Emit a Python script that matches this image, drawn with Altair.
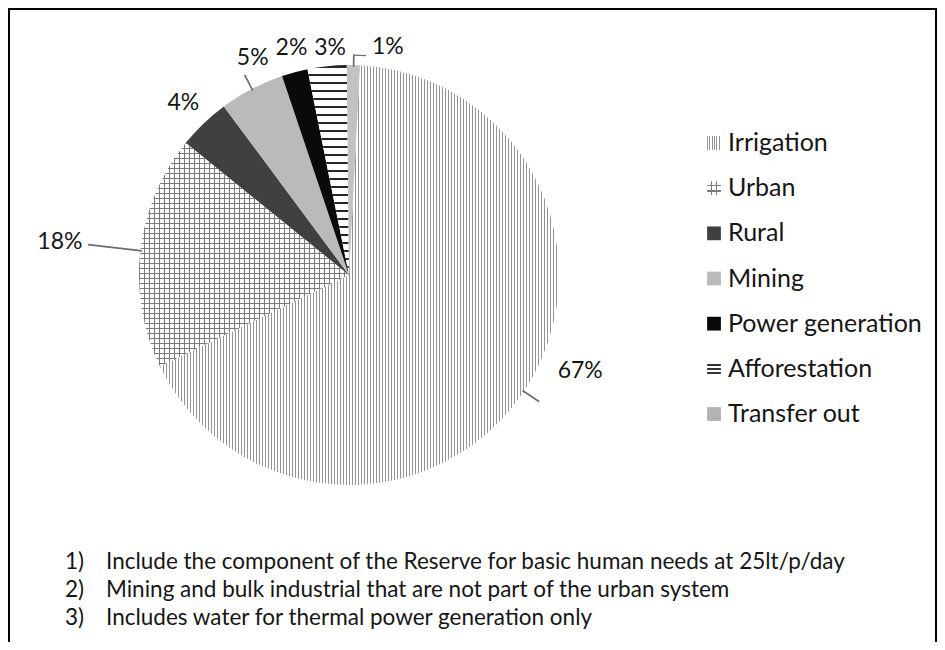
import math
import altair as alt
import pandas as pd

# ---------------- data ----------------
categories = ["Irrigation", "Urban", "Rural", "Mining", "Power generation", "Afforestation", "Transfer out"]
shares = [67, 18, 4, 5, 2, 3, 1]
pct_labels = ["67%", "18%", "4%", "5%", "2%", "3%", "1%"]
footnote_nums = ["1)", "2)", "3)"]
footnote_texts = [
    "Include the component of the Reserve for basic human needs at 25lt/p/day",
    "Mining and bulk industrial that are not part of the urban system",
    "Includes water for thermal power generation only",
]

df = pd.DataFrame({"category": categories, "share": shares, "label": pct_labels,
                   "order": list(range(len(categories)))})
fn_df = pd.DataFrame({"idx": list(range(len(footnote_nums))), "num": footnote_nums, "text": footnote_texts})

# ---------------- layout / style ----------------
W, H = 929, 634
CX, CY = 341, 267          # pie centre (view coords)
R = 210                    # pie radius
START = math.radians(3)    # first slice angle
FONT = "Lato"
TXT = "#161616"
THETA = alt.Scale(domain=[0, 100], range=[START, START + 2 * math.pi])


def stripes(n, frac, line, bg, vertical=True, g0=0.0, g1=1.0):
    stops = []
    for i in range(n):
        a = i / n
        b = (i + frac) / n
        c = (i + 1) / n
        stops += [alt.GradientStop(offset=round(a, 6), color=line),
                  alt.GradientStop(offset=round(b, 6), color=line),
                  alt.GradientStop(offset=round(b, 6), color=bg),
                  alt.GradientStop(offset=round(min(c, 1), 6), color=bg)]
    if vertical:
        return alt.LinearGradient(gradient="linear", stops=stops, x1=g0, x2=g1, y1=0, y2=0)
    return alt.LinearGradient(gradient="linear", stops=stops, x1=0, x2=0, y1=g0, y2=g1)


def lines(pos, w, line, bg, vertical=True):
    stops = [alt.GradientStop(offset=0, color=bg)]
    for p in pos:
        stops += [alt.GradientStop(offset=p - w / 2, color=bg),
                  alt.GradientStop(offset=p - w / 2, color=line),
                  alt.GradientStop(offset=p + w / 2, color=line),
                  alt.GradientStop(offset=p + w / 2, color=bg)]
    stops.append(alt.GradientStop(offset=1, color=bg))
    if vertical:
        return alt.LinearGradient(gradient="linear", stops=stops, x1=0, x2=1, y1=0, y2=0)
    return alt.LinearGradient(gradient="linear", stops=stops, x1=0, x2=0, y1=0, y2=1)


CLEAR = "rgba(255,255,255,0)"
pie_fills = {
    "Irrigation": [stripes(133, 0.42, "#939393", "#ffffff", True, 0.0002, 1.0)],
    "Urban": [stripes(42, 0.22, "#7a7a7a", "#ffffff", True, 0.0, 1.0),
              stripes(45, 0.22, "#7a7a7a", CLEAR, False, 0.0007, 1.0071)],
    "Rural": ["#404040"],
    "Mining": ["#bababa"],
    "Power generation": ["#0a0a0a"],
    "Afforestation": [stripes(27, 0.25, "#262626", "#ffffff", False, 0.0047, 1.0333)],
    "Transfer out": ["#c2c2c2"],
}
swatch_fills = {
    "Irrigation": [stripes(6, 0.45, "#8f8f8f", "#ffffff", True)],
    "Urban": [lines([0.3, 0.7], 0.1, "#7a7a7a", "#ffffff", True),
              lines([0.3, 0.7], 0.1, "#7a7a7a", CLEAR, False)],
    "Rural": ["#404040"],
    "Mining": ["#bababa"],
    "Power generation": ["#0a0a0a"],
    "Afforestation": [lines([0.2, 0.5, 0.8], 0.12, "#333333", "#ffffff", False)],
    "Transfer out": ["#b3b3b3"],
}
# label placement: (radius, dx, dy)
label_pos = {
    "Irrigation": (250, 23, -42),
    "Urban": (291, 0, 0),
    "Rural": (238, -1, 0),
    "Mining": (238, 14, -6),
    "Power generation": (234, 3, -1),
    "Afforestation": (228, 5, 0),
    "Transfer out": (230, 34, 2),
}
# radial leader lines: outer radius
leaders = {"Irrigation": 228, "Urban": 262, "Mining": 225, "Transfer out": 220}
LEAD = "#6e6e6e"

base = (alt.Chart(df)
        .transform_window(cum="sum(share)", sort=[alt.SortField("order")], frame=[None, 0])
        .transform_calculate(start="datum.cum - datum.share",
                             mid="datum.cum - datum.share / 2",
                             mid2="datum.cum - datum.share / 2 + 0.03",
                             hook="datum.cum - datum.share / 2 + 0.9"))

layers = []
for cat in categories:
    for fill in pie_fills[cat]:
        layers.append(
            base.transform_filter(alt.datum.category == cat)
            .mark_arc(radius=R, fill=fill, strokeWidth=0)
            .encode(theta=alt.Theta("start:Q", scale=THETA, stack=None),
                    theta2=alt.Theta2("cum"),
                    x=alt.value(CX), y=alt.value(CY)))

for cat, r2 in leaders.items():
    layers.append(
        base.transform_filter(alt.datum.category == cat)
        .mark_arc(radius=r2, radius2=R - 1, fill=LEAD, stroke=LEAD, strokeWidth=1.3)
        .encode(theta=alt.Theta("mid:Q", scale=THETA, stack=None),
                theta2=alt.Theta2("mid2"),
                x=alt.value(CX), y=alt.value(CY)))
# short horizontal hook of the 1% leader
layers.append(
    base.transform_filter(alt.datum.category == "Transfer out")
    .mark_arc(radius=220.6, radius2=219.4, fill=LEAD, strokeWidth=0)
    .encode(theta=alt.Theta("mid:Q", scale=THETA, stack=None),
            theta2=alt.Theta2("hook"),
            x=alt.value(CX), y=alt.value(CY)))

for cat in categories:
    rr, dx, dy = label_pos[cat]
    layers.append(
        base.transform_filter(alt.datum.category == cat)
        .mark_text(radius=rr, dx=dx, dy=dy, font=FONT, fontSize=23, color=TXT,
                   align="center", baseline="middle")
        .encode(theta=alt.Theta("mid:Q", scale=THETA, stack=None),
                text="label:N", x=alt.value(CX), y=alt.value(CY)))

LEG_Y = alt.Scale(type="point", domain=categories, range=[135, 406], padding=0)
for cat in categories:
    for fill in swatch_fills[cat]:
        layers.append(
            alt.Chart(df).transform_filter(alt.datum.category == cat)
            .mark_square(size=190, fill=fill, strokeWidth=0, opacity=1)
            .encode(y=alt.Y("category:N", scale=LEG_Y, axis=None), x=alt.value(706)))
layers.append(
    alt.Chart(df).mark_text(font=FONT, fontSize=25, color=TXT, align="left", baseline="middle")
    .encode(y=alt.Y("category:N", scale=LEG_Y, axis=None), x=alt.value(720), text="category:N"))

FN_Y = alt.Scale(type="point", domain=list(range(len(footnote_nums))), range=[554, 610], padding=0)
layers.append(
    alt.Chart(fn_df).mark_text(font=FONT, fontSize=22.5, color=TXT, align="left", baseline="middle")
    .encode(y=alt.Y("idx:O", scale=FN_Y, axis=None), x=alt.value(57), text="num:N"))
layers.append(
    alt.Chart(fn_df).mark_text(font=FONT, fontSize=22.5, color=TXT, align="left", baseline="middle")
    .encode(y=alt.Y("idx:O", scale=FN_Y, axis=None), x=alt.value(98), text="text:N"))

# frame (left, top, right)
frame_df = pd.DataFrame({"k": [0]})
layers.append(alt.Chart(frame_df).mark_rule(color="black", strokeWidth=2)
              .encode(x=alt.value(1), y=alt.value(0), y2=alt.value(H)))
layers.append(alt.Chart(frame_df).mark_rule(color="black", strokeWidth=2)
              .encode(x=alt.value(0), x2=alt.value(W), y=alt.value(1)))
layers.append(alt.Chart(frame_df).mark_rule(color="black", strokeWidth=2)
              .encode(x=alt.value(W - 1), y=alt.value(0), y2=alt.value(H)))

chart = (alt.layer(*layers)
         .resolve_scale(y="independent")
         .properties(width=W, height=H, padding=0, autosize="none", background="white")
         .configure_view(stroke=None))

chart.save("out.html", embed_options={"renderer": "svg", "actions": False})
